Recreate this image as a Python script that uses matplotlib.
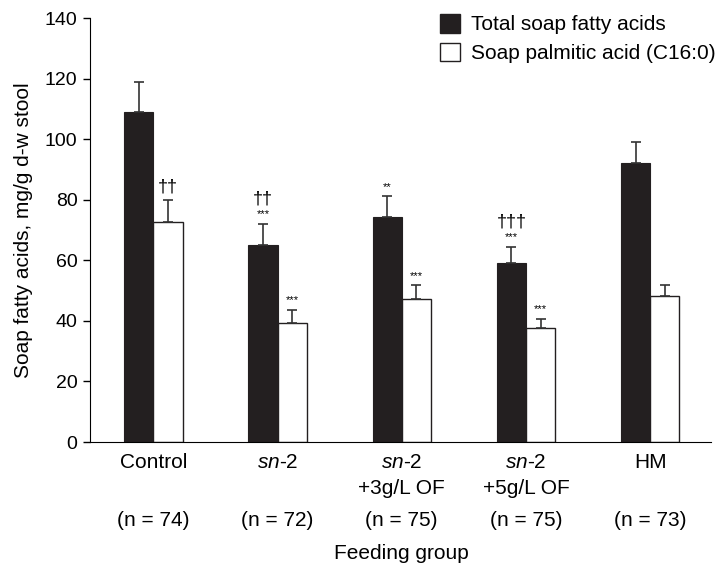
import numpy as np
import matplotlib.pyplot as plt
from matplotlib.patches import Patch

plt.rcParams['font.family'] = ['Liberation Sans', 'DejaVu Sans']
plt.rcParams['mathtext.fontset'] = 'custom'
plt.rcParams['mathtext.rm'] = 'Liberation Sans'
plt.rcParams['mathtext.it'] = 'Liberation Sans:italic'

# Data
groups = ['Control', r'$\it{sn}$-2', r'$\it{sn}$-2' + '\n+3g/L OF',
          r'$\it{sn}$-2' + '\n+5g/L OF', 'HM']
n_labels = ['(n = 74)', '(n = 72)', '(n = 75)', '(n = 75)', '(n = 73)']
total_soap = [109.0, 65.0, 74.2, 59.0, 92.2]
total_err = [10.0, 7.0, 7.0, 5.5, 7.0]
palmitic = [72.6, 39.4, 47.2, 37.7, 48.3]
palmitic_err = [7.4, 4.2, 4.6, 2.9, 3.5]
total_marks = ['', '***\n††', '**', '***\n†††', '']
palm_marks = ['††', '***', '***', '***', '']

x = np.arange(len(groups))
w = 0.235
black = '#231f20'

fig = plt.figure(figsize=(7.2, 5.66), dpi=100)
ax = fig.add_axes([0.125, 0.219, 0.8625, 0.749])

ekw = dict(ecolor='#333333', elinewidth=1.2, capsize=3.5, capthick=1.2)
ax.bar(x - w / 2, total_soap, w, color=black, edgecolor=black, linewidth=0.8,
       yerr=[np.zeros(5), total_err], error_kw=ekw)
ax.bar(x + w / 2, palmitic, w, color='white', edgecolor=black, linewidth=1.0,
       yerr=[np.zeros(5), palmitic_err], error_kw=ekw)

# significance marks
def put_marks(xs, tops, marks):
    for xi, top, m in zip(xs, tops, marks):
        if not m:
            continue
        y = top + 1.5
        for line in m.split('\n'):
            if '*' in line:
                ax.text(xi, y, line, ha='center', va='bottom', fontsize=8)
                y += 4.0
            else:
                ax.text(xi, y, line, ha='center', va='bottom', fontsize=13)
                y += 6

put_marks(x - w / 2, np.add(total_soap, total_err), total_marks)
put_marks(x + w / 2, np.add(palmitic, palmitic_err), palm_marks)

ax.set_xlim(-0.51, 4.49)
ax.set_ylim(0, 140)
ax.set_yticks(np.arange(0, 141, 20))
ax.set_xticks(x)
ax.set_xticklabels(groups, fontsize=15, linespacing=1.45)
ax.tick_params(axis='x', length=0, pad=8)
ax.tick_params(axis='y', labelsize=14, length=5, width=1, direction='out', pad=4)
ax.spines['top'].set_visible(False)
ax.spines['right'].set_visible(False)
ax.set_ylabel('Soap fatty acids, mg/g d-w stool', fontsize=15)
ax.yaxis.set_label_coords(-0.092, 0.5)

for xi, lab in zip(x, n_labels):
    ax.text(xi, -0.184, lab, transform=ax.get_xaxis_transform(), ha='center', va='center', fontsize=15)
ax.text(2.0, -0.277, 'Feeding group', transform=ax.get_xaxis_transform(), ha='center', va='baseline', fontsize=15)

handles = [Patch(facecolor=black, edgecolor=black), Patch(facecolor='white', edgecolor=black)]
ax.legend(handles, ['Total soap fatty acids', 'Soap palmitic acid (C16:0)'],
          loc='upper left', bbox_to_anchor=(0.563, 1.01), frameon=False, fontsize=15,
          handlelength=1.0, handleheight=1.0, handletextpad=0.5, labelspacing=0.4,
          borderpad=0, borderaxespad=0)

fig.savefig('out.png', dpi=100)
